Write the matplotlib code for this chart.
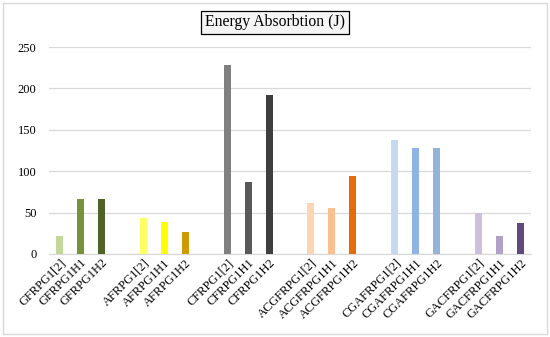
import matplotlib
matplotlib.use("Agg")
import matplotlib.pyplot as plt
import numpy as np

categories = ["GFRPG1[2]", "GFRPG1H1", "GFRPG1H2", "",
              "AFRPG1[2]", "AFRPG1H1", "AFRPG1H2", "",
              "CFRPG1[2]", "CFRPG1H1", "CFRPG1H2", "",
              "ACGFRPG1[2]", "ACGFRPG1H1", "ACGFRPG1H2", "",
              "CGAFRPG1[2]", "CGAFRPG1H1", "CGAFRPG1H2", "",
              "GACFRPG1[2]", "GACFRPG1H1", "GACFRPG1H2"]
values = [22, 66, 67, None,
          43.5, 39, 27, None,
          228, 87, 192, None,
          62, 55, 94, None,
          138, 128, 128, None,
          50, 22, 37]
colors = ["#c4d79b", "#76923c", "#4f6228", None,
          "#ffff66", "#ffff00", "#cc9c00", None,
          "#808080", "#595959", "#3f3f3f", None,
          "#fcd5b4", "#fabf8f", "#e46c0a", None,
          "#c5d9f1", "#8db4e2", "#95b3d7", None,
          "#ccc0da", "#b1a0c7", "#604a7b"]
title = "Energy Absorbtion (J)"
yticks = [0, 50, 100, 150, 200, 250]

plt.rcParams['font.family'] = ['Liberation Serif', 'DejaVu Serif']

fig = plt.figure(figsize=(5.5, 3.37), dpi=100)
ax = fig.add_axes([49/550, 1-254/337, (531-49)/550, (254-47)/337])

x = np.arange(len(categories))
for xi, v, c in zip(x, values, colors):
    if v is not None:
        ax.bar(xi, v, width=0.33, color=c, zorder=3)

ax.set_xlim(-0.5, len(categories) - 0.5)
ax.set_ylim(0, 250)
ax.set_yticks(yticks)
ax.set_yticklabels([str(t) for t in yticks], fontsize=9)
ax.yaxis.grid(True, color="#d9d9d9", linewidth=0.9, zorder=0)
ax.tick_params(axis='y', length=0, pad=9)
ax.tick_params(axis='x', length=0, pad=2)
ax.set_xticks(x)
ax.set_xticklabels(categories, rotation=45, ha='right', rotation_mode='anchor', fontsize=9)
for s in ['top', 'right', 'left']:
    ax.spines[s].set_visible(False)
ax.spines['bottom'].set_color("#d9d9d9")
ax.spines['bottom'].set_linewidth(0.9)

fig.text(275/550, 1-22.5/337, title, ha='center', va='center', fontsize=11.3,
         bbox=dict(boxstyle='square,pad=0.25', facecolor='#f5f5f5', edgecolor='black', linewidth=0.9))

border = plt.Rectangle((3/550, 3/337), 544/550, 331/337, transform=fig.transFigure,
                       fill=False, edgecolor="#d9d9d9", linewidth=1)
fig.add_artist(border)

fig.savefig("out.png", dpi=100)
